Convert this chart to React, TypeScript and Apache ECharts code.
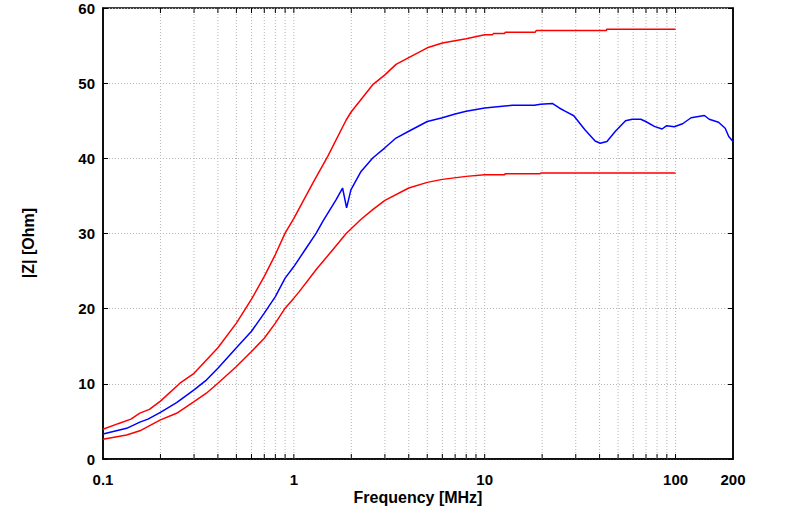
import React, { useEffect, useRef } from "react";
import * as echarts from "echarts";

// Upper limit (red)
const upperFreq = [0.1, 0.12, 0.14, 0.156, 0.175, 0.2, 0.253, 0.3, 0.4, 0.5, 0.6, 0.7, 0.8, 0.9, 1.0, 1.124, 1.257, 1.505, 1.88, 2.0, 2.59, 3.0, 3.43, 4, 5, 6, 8, 10, 11, 11.1, 12.7, 12.8, 18.4, 18.6, 43.4, 43.6, 100];
const upperVal = [3.95, 4.7, 5.3, 6.1, 6.6, 7.7, 10.08, 11.4, 14.8, 18.07, 21.26, 24.3, 27.2, 30.05, 32.0, 34.4, 36.7, 40.25, 45.1, 46.2, 49.8, 51.1, 52.5, 53.4, 54.7, 55.35, 55.9, 56.45, 56.45, 56.6, 56.6, 56.77, 56.77, 57.0, 57.0, 57.17, 57.17];

// Measured impedance (blue)
const measFreq = [0.1, 0.133, 0.156, 0.172, 0.2, 0.243, 0.3, 0.348, 0.4, 0.5, 0.6, 0.7, 0.8, 0.9, 1.0, 1.15, 1.31, 1.418, 1.666, 1.8, 1.89, 1.99, 2.25, 2.59, 3, 3.43, 4, 5, 6, 7, 8, 10, 13.95, 18.2, 19.6, 22.6, 24.6, 26.5, 29.3, 33.5, 37.9, 40.3, 43.7, 48.4, 54.7, 59.3, 65.7, 69.8, 77.4, 85, 89.9, 98.4, 108.9, 120.6, 141.7, 150, 168, 182, 190, 200];
const measVal = [3.33, 4.08, 4.9, 5.3, 6.2, 7.5, 9.19, 10.5, 12.07, 14.8, 17.0, 19.4, 21.6, 24.06, 25.6, 27.9, 30.05, 31.6, 34.5, 36.05, 33.4, 35.8, 38.25, 40.04, 41.4, 42.7, 43.6, 44.9, 45.4, 45.9, 46.25, 46.7, 47.05, 47.05, 47.2, 47.3, 46.7, 46.25, 45.67, 43.8, 42.3, 42.0, 42.25, 43.6, 45.0, 45.2, 45.2, 44.9, 44.25, 43.9, 44.35, 44.2, 44.6, 45.4, 45.7, 45.2, 44.8, 44.0, 42.9, 42.25];

// Lower limit (red)
const lowerFreq = [0.1, 0.133, 0.156, 0.2, 0.243, 0.3, 0.348, 0.4, 0.5, 0.6, 0.7, 0.8, 0.9, 1.0, 1.07, 1.31, 1.733, 1.88, 2.25, 2.6, 3, 4, 5, 6, 8, 10, 12.7, 12.8, 19.5, 19.7, 100];
const lowerVal = [2.62, 3.2, 3.75, 5.2, 6.08, 7.63, 8.75, 10.08, 12.3, 14.3, 16.07, 18.07, 20.07, 21.4, 22.3, 25.2, 28.9, 30.0, 31.9, 33.2, 34.4, 36.05, 36.8, 37.2, 37.6, 37.8, 37.8, 37.95, 37.95, 38.05, 38.05];

// Axis ticks / grid positions
const xLabelValues = [0.1, 1, 10, 100, 200];
const gridFreqs = [0.2, 0.3, 0.4, 0.5, 0.6, 0.7, 0.8, 0.9, 1, 2, 3, 4, 5, 6, 7, 8, 9, 10, 20, 30, 40, 50, 60, 70, 80, 90, 100];

const FONT = "'Liberation Sans', Arial, sans-serif";

export default function App() {
  const ref = useRef<HTMLDivElement>(null);
  useEffect(() => {
    if (!ref.current) return;
    const chart = echarts.init(ref.current, null, { renderer: "svg" });
    const pair = (fs: number[], vs: number[]) => fs.map((f, i) => [f, vs[i]]);
    chart.setOption({
      animation: false,
      backgroundColor: "#fff",
      textStyle: { fontFamily: FONT },
      grid: {
        left: 103,
        right: 62,
        top: 8,
        bottom: 61,
        show: true,
        borderColor: "#000",
        borderWidth: 1.5,
      },
      xAxis: {
        type: "log",
        logBase: 10,
        min: 0.1,
        max: 200,
        axisLine: { show: true, lineStyle: { color: "#000", width: 1.5 } },
        axisTick: { show: false },
        splitLine: { show: false },
        axisLabel: {
          customValues: xLabelValues,
          formatter: (v: number) => String(v),
          color: "#000",
          fontWeight: "bold",
          fontSize: 15,
          fontFamily: FONT,
          margin: 13,
        },
      },
      yAxis: [
        {
          type: "value",
          min: 0,
          max: 60,
          interval: 10,
          axisLine: { show: true, lineStyle: { color: "#000", width: 1.5 } },
          axisTick: { show: true, inside: true, length: 5, lineStyle: { color: "#000" } },
          splitLine: { show: true, lineStyle: { color: "#b4b4b4", type: [1, 2], width: 1 } },
          axisLabel: { color: "#000", fontWeight: "bold", fontSize: 15, fontFamily: FONT, margin: 8 },
        },
        {
          type: "value",
          position: "right",
          min: 0,
          max: 60,
          interval: 10,
          axisLine: { show: true, lineStyle: { color: "#000", width: 1.5 } },
          axisTick: { show: true, inside: true, length: 5, lineStyle: { color: "#000" } },
          splitLine: { show: false },
          axisLabel: { show: false },
        },
      ],
      graphic: [
        {
          type: "text",
          x: 418,
          y: 497,
          style: {
            text: "Frequency [MHz]",
            font: `bold 16px ${FONT}`,
            fill: "#000",
            align: "center",
            verticalAlign: "middle",
          },
        },
        {
          type: "text",
          x: 28,
          y: 243,
          rotation: Math.PI / 2,
          style: {
            text: "|Z| [Ohm]",
            font: `bold 16px ${FONT}`,
            fill: "#000",
            align: "center",
            verticalAlign: "middle",
          },
        },
      ],
      series: [
        {
          type: "custom",
          z: 1,
          silent: true,
          data: gridFreqs.map((f) => [f, 0]),
          renderItem: (params: any, api: any) => {
            const f = api.value(0);
            const b = api.coord([f, 0]);
            const t = api.coord([f, 60]);
            return {
              type: "group",
              children: [
                {
                  type: "line",
                  shape: { x1: b[0], y1: b[1], x2: t[0], y2: t[1] },
                  style: { stroke: "#b4b4b4", lineWidth: 1, lineDash: [1, 2] },
                },
                {
                  type: "line",
                  shape: { x1: b[0], y1: b[1], x2: b[0], y2: b[1] - 5 },
                  style: { stroke: "#000", lineWidth: 1 },
                },
                {
                  type: "line",
                  shape: { x1: t[0], y1: t[1], x2: t[0], y2: t[1] + 5 },
                  style: { stroke: "#000", lineWidth: 1 },
                },
              ],
            };
          },
        },
        {
          name: "upper",
          type: "line",
          z: 3,
          data: pair(upperFreq, upperVal),
          showSymbol: false,
          lineStyle: { color: "#ff0000", width: 1.5 },
        },
        {
          name: "lower",
          type: "line",
          z: 3,
          data: pair(lowerFreq, lowerVal),
          showSymbol: false,
          lineStyle: { color: "#ff0000", width: 1.5 },
        },
        {
          name: "measured",
          type: "line",
          z: 4,
          data: pair(measFreq, measVal),
          showSymbol: false,
          lineStyle: { color: "#0000ff", width: 1.5 },
        },
      ],
    });
    return () => chart.dispose();
  }, []);
  return (
    <div
      ref={ref}
      style={{ position: "fixed", left: 0, top: 0, width: 795, height: 520 }}
    />
  );
}
